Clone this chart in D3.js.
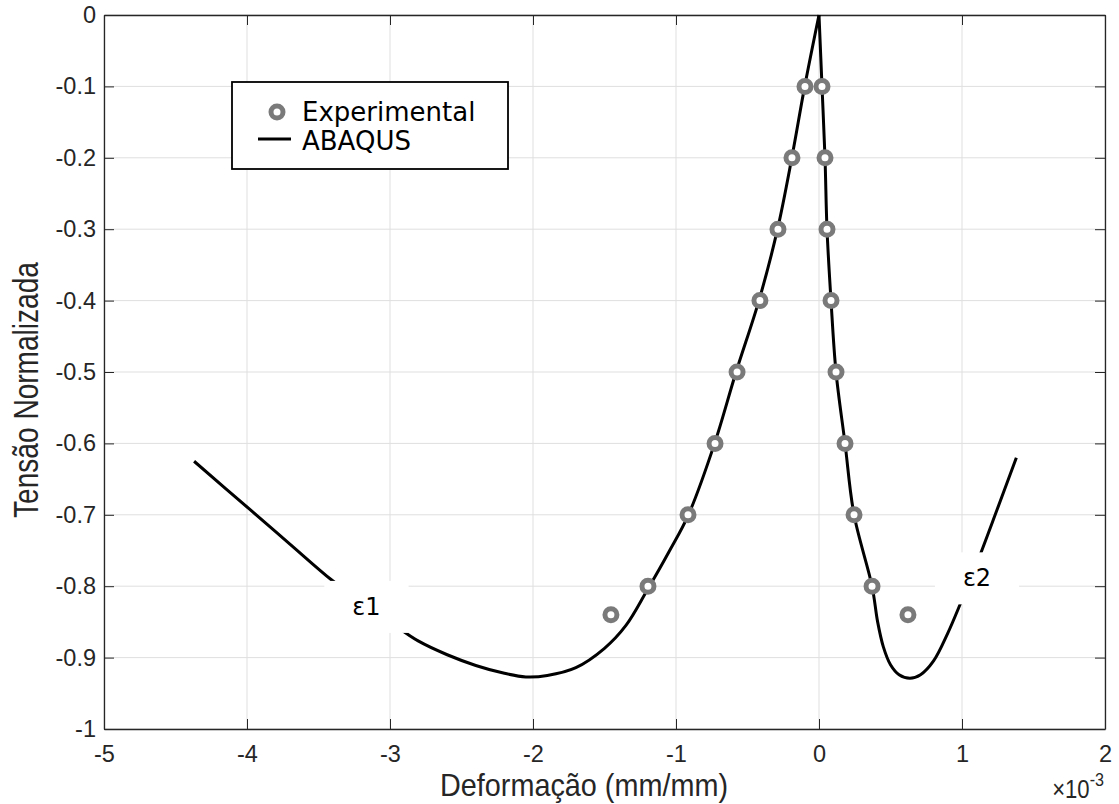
<!DOCTYPE html>
<html><head><meta charset="utf-8">
<script src="https://cdn.jsdelivr.net/npm/d3@7"></script>
<style>body{margin:0;background:#fff}</style>
</head><body>
<script>
// ---- data ----
const xTicks = [-5,-4,-3,-2,-1,0,1,2];
const yTicks = [0,-0.1,-0.2,-0.3,-0.4,-0.5,-0.6,-0.7,-0.8,-0.9,-1];
const expX = [-0.098,-0.189,-0.287,-0.413,-0.573,-0.727,-0.916,-1.196,-1.455,0.021,0.042,0.056,0.084,0.119,0.182,0.245,0.371,0.622];
const expY = [-0.1,-0.2,-0.3,-0.4,-0.5,-0.6,-0.7,-0.8,-0.84,-0.1,-0.2,-0.3,-0.4,-0.5,-0.6,-0.7,-0.8,-0.84];
const abqX = [-4.37,-3.98,-3.7,-3.41,-3.2,-3.0,-2.8,-2.6,-2.4,-2.2,-2.05,-1.9,-1.7,-1.5,-1.35,-1.2,-1.05,-0.913,-0.73,-0.58,-0.42,-0.29,-0.19,-0.1,0,0.021,0.042,0.056,0.084,0.119,0.182,0.245,0.371,0.41,0.45,0.5,0.56,0.636,0.71,0.8,0.9,1.0,1.1,1.245,1.38];
const abqY = [-0.625,-0.6925,-0.741,-0.791,-0.822,-0.85,-0.877,-0.896,-0.911,-0.922,-0.927,-0.925,-0.914,-0.887,-0.855,-0.805,-0.752,-0.70,-0.6,-0.5,-0.4,-0.3,-0.2,-0.1,0,-0.1,-0.2,-0.3,-0.4,-0.5,-0.6,-0.7,-0.8,-0.85,-0.885,-0.91,-0.924,-0.929,-0.924,-0.905,-0.866,-0.819,-0.77,-0.693,-0.62];
const labels = [{t:"ε1", x:-3.165, y:-0.829},{t:"ε2", x:1.105, y:-0.789}];
const legendNames = ["Experimental","ABAQUS"];

// ---- layout ----
const W=1119,H=804, L=104, R=1105, T=15, B=729;
const svg = d3.select("body").append("svg").attr("width",W).attr("height",H);
const x = d3.scaleLinear().domain([-5,2]).range([L,R]);
const y = d3.scaleLinear().domain([-1,0]).range([B,T]);
const axisCol="#262626", gridCol="#dfdfdf", tickFont="'Liberation Sans', Arial, sans-serif";

// grid
const g = svg.append("g");
g.selectAll(".gx").data(xTicks).enter().append("line")
 .attr("x1",d=>x(d)).attr("x2",d=>x(d)).attr("y1",T).attr("y2",B).attr("stroke",gridCol).attr("stroke-width",1);
g.selectAll(".gy").data(yTicks).enter().append("line")
 .attr("y1",d=>y(d)).attr("y2",d=>y(d)).attr("x1",L).attr("x2",R).attr("stroke",gridCol).attr("stroke-width",1);

// axes with inward ticks
const tl=10;
const fmtY = d=> d===0?"0":d===-1?"-1":d3.format(".1f")(d).replace("−","-");
const axB = svg.append("g").attr("transform",`translate(0,${B})`).call(d3.axisBottom(x).tickValues(xTicks).tickSizeInner(-tl).tickSizeOuter(0).tickPadding(16).tickFormat(d=>String(d)));
const axT = svg.append("g").attr("transform",`translate(0,${T})`).call(d3.axisTop(x).tickValues(xTicks).tickSizeInner(-tl).tickSizeOuter(0).tickFormat(""));
const axL = svg.append("g").attr("transform",`translate(${L},0)`).call(d3.axisLeft(y).tickValues(yTicks).tickSizeInner(-tl).tickSizeOuter(0).tickPadding(8).tickFormat(fmtY));
const axR = svg.append("g").attr("transform",`translate(${R},0)`).call(d3.axisRight(y).tickValues(yTicks).tickSizeInner(-tl).tickSizeOuter(0).tickFormat(""));
[axB,axT,axL,axR].forEach(a=>{
  a.select(".domain").attr("stroke",axisCol).attr("stroke-width",1.3);
  a.selectAll(".tick line").attr("stroke",axisCol).attr("stroke-width",1);
  a.selectAll("text").attr("fill",axisCol).attr("font-family",tickFont).attr("font-size",23.5);
});

// ABAQUS line: split at peak to keep sharp tip
const pts = abqX.map((v,i)=>[v,abqY[i]]);
const peak = abqY.indexOf(d3.max(abqY));
const line = d3.line().x(d=>x(d[0])).y(d=>y(d[1])).curve(d3.curveCatmullRom.alpha(0.5));
[pts.slice(0,peak+1), pts.slice(peak)].forEach(seg=>{
  svg.append("path").attr("d",line(seg)).attr("fill","none").attr("stroke","#000").attr("stroke-width",3).attr("stroke-linejoin","miter");
});

// experimental markers
svg.selectAll(".m").data(expX.map((v,i)=>[v,expY[i]])).enter().append("circle")
 .attr("cx",d=>x(d[0])).attr("cy",d=>y(d[1])).attr("r",6).attr("fill","#fff").attr("stroke","#7a7a7a").attr("stroke-width",5);

// epsilon labels with white background
labels.forEach(l=>{
  const t = svg.append("text").attr("x",x(l.x)).attr("y",y(l.y)).attr("text-anchor","middle").attr("dominant-baseline","central")
    .attr("font-family","'DejaVu Sans', sans-serif").attr("font-size",24).attr("fill","#000").text(l.t);
  const bb = t.node().getBBox();
  svg.insert("rect", () => t.node()).attr("x",bb.x-28).attr("y",bb.y-12).attr("width",bb.width+56).attr("height",bb.height+24).attr("fill","#fff");
});

// legend
const lg = svg.append("g");
lg.append("rect").attr("x",232).attr("y",82).attr("width",276).attr("height",87).attr("fill","#fff").attr("stroke","#000").attr("stroke-width",1.8);
lg.append("circle").attr("cx",277).attr("cy",112).attr("r",6).attr("fill","#fff").attr("stroke","#7a7a7a").attr("stroke-width",5);
lg.append("line").attr("x1",258).attr("x2",291).attr("y1",139).attr("y2",139).attr("stroke","#000").attr("stroke-width",3);
lg.selectAll(".lt").data(legendNames).enter().append("text").attr("x",302).attr("y",(d,i)=>121+i*29)
 .attr("font-family","'DejaVu Sans', sans-serif").attr("font-size",26).attr("fill","#000").text(d=>d);

// axis titles (condensed like the reference)
svg.append("text").attr("transform",`translate(584,796) scale(0.9,1)`).attr("text-anchor","middle").attr("font-family",tickFont).attr("font-size",32).attr("fill",axisCol).text("Deformação (mm/mm)");
svg.append("text").attr("transform",`translate(38,390) rotate(-90) scale(0.78,1)`).attr("text-anchor","middle").attr("font-family",tickFont).attr("font-size",36).attr("fill",axisCol).text("Tensão Normalizada");

// exponent
const ex = svg.append("text").attr("transform",`translate(1104,798) scale(0.85,1)`).attr("text-anchor","end").attr("font-family",tickFont).attr("font-size",26).attr("fill",axisCol);
ex.append("tspan").text("×10");
ex.append("tspan").attr("dy",-12).attr("font-size",19).text("-3");
</script>
</body></html>
